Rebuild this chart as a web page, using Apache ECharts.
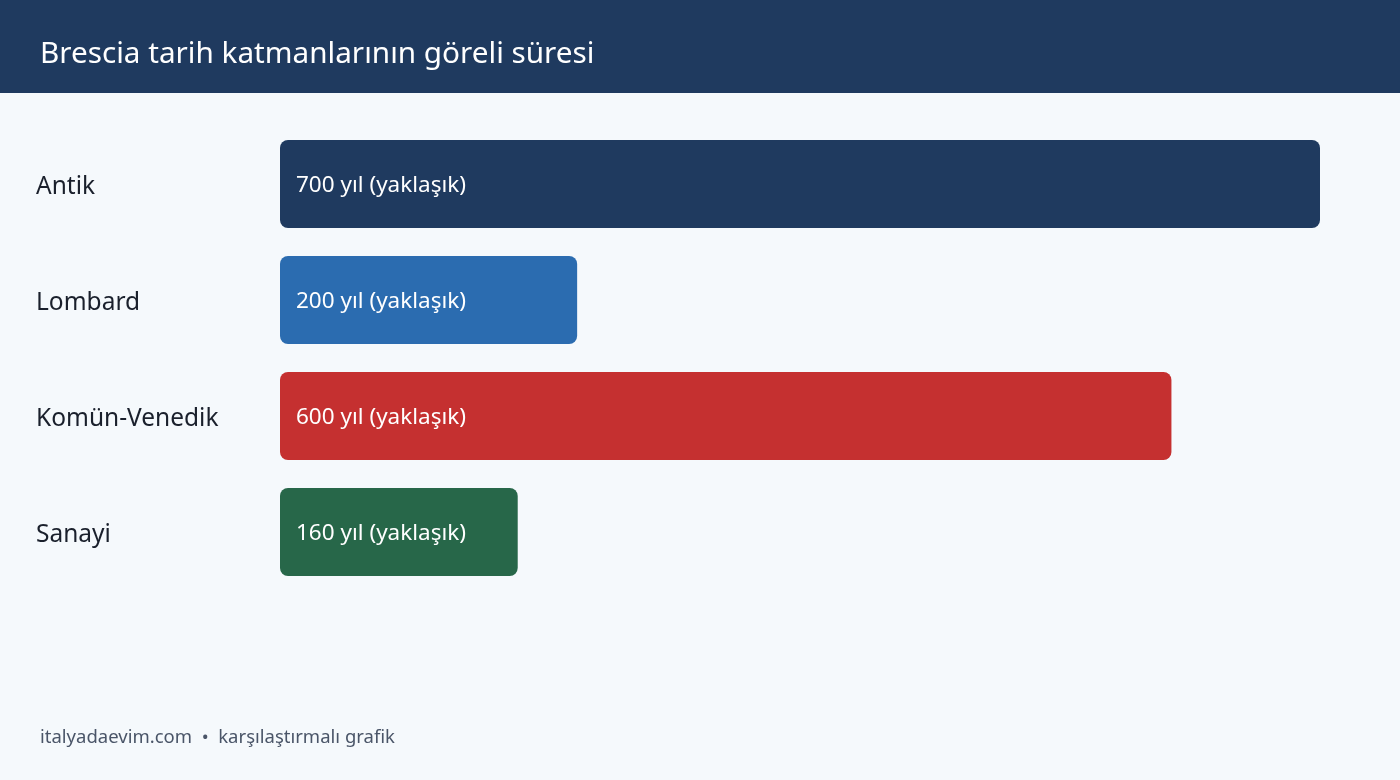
<!DOCTYPE html>
<html>
<head>
<meta charset="utf-8">
<script src="https://cdn.jsdelivr.net/npm/echarts@6/dist/echarts.min.js"></script>
<style>
html,body{margin:0;padding:0;background:#f5f9fc;}
#chart{width:1400px;height:780px;}
</style>
</head>
<body>
<div id="chart"></div>
<script>
const titleText = 'Brescia tarih katmanlarının göreli süresi';
const footerText = 'italyadaevim.com  •  karşılaştırmalı grafik';
const categories = ['Antik', 'Lombard', 'Komün-Venedik', 'Sanayi'];
const durations = [700, 200, 600, 160];
const barLabels = ['700 yıl (yaklaşık)', '200 yıl (yaklaşık)', '600 yıl (yaklaşık)', '160 yıl (yaklaşık)'];
const barColors = ['#1f3a5f', '#2b6cb0', '#c53030', '#276749'];

const FONT = '"Segoe UI", "Noto Sans", "Open Sans", sans-serif';
const chart = echarts.init(document.getElementById('chart'), null, {renderer: 'canvas'});
chart.setOption({
  backgroundColor: '#f5f9fc',
  animation: false,
  graphic: [
    {type: 'rect', left: 0, top: 0, shape: {width: 1400, height: 93}, style: {fill: '#1f3a5f'}, z: 0},
    {type: 'text', left: 40, top: 40, style: {text: titleText, fill: '#ffffff', font: '29.7px ' + FONT}, z: 1},
    {type: 'text', left: 40, top: 728, style: {text: footerText, fill: '#4a5568', font: '18.5px ' + FONT}, z: 1}
  ],
  grid: {left: 280, top: 126, width: 1040, height: 464, containLabel: false},
  xAxis: {
    type: 'value', min: 0, max: 700,
    axisLine: {show: false}, axisTick: {show: false}, axisLabel: {show: false}, splitLine: {show: false}
  },
  yAxis: {
    type: 'category', data: categories, inverse: true,
    axisLine: {show: false}, axisTick: {show: false}, splitLine: {show: false},
    axisLabel: {
      align: 'left', margin: 244,
      formatter: v => '{c|' + v + '}',
      rich: {c: {fontSize: 24.5, color: '#1a202c', fontFamily: FONT, padding: [7, 0, 0, 0]}}
    }
  },
  series: [{
    type: 'bar',
    barWidth: 88,
    data: durations.map((v, i) => ({value: v, itemStyle: {color: barColors[i], borderRadius: 8}})),
    label: {
      show: true, position: 'insideLeft', distance: 16, offset: [0, 2],
      formatter: p => barLabels[p.dataIndex],
      color: '#ffffff', fontSize: 22.5, fontFamily: FONT
    }
  }]
});
</script>
</body>
</html>
